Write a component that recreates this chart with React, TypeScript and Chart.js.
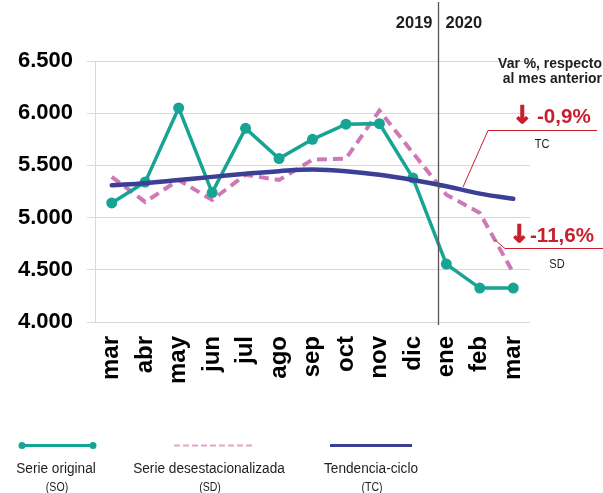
import React, { useEffect, useRef } from "react";
import { Chart, registerables } from "chart.js";

Chart.register(...registerables);

const months = ["mar", "abr", "may", "jun", "jul", "ago", "sep", "oct", "nov", "dic", "ene", "feb", "mar"];
const serieOriginal = [5140, 5340, 6050, 5240, 5855, 5565, 5750, 5895, 5900, 5380, 4555, 4325, 4325];
const serieDesest = [5390, 5150, 5360, 5170, 5410, 5360, 5555, 5565, 6025, 5620, 5220, 5045, 4470];
const tendenciaCiclo = [5310, 5330, 5360, 5390, 5420, 5445, 5460, 5445, 5410, 5360, 5300, 5230, 5180];
const yMin = 4000;
const yMax = 6500;
const yStep = 500;
const years = ["2019", "2020"];
const varTitle = ["Var %, respecto", "al mes anterior"];
const varTC = "-0,9%";
const varSD = "-11,6%";
const legendLabels = ["Serie original", "Serie desestacionalizada", "Tendencia-ciclo"];
const legendCodes = ["(SO)", "(SD)", "(TC)"];

const TEAL = "#17a495";
const PINK = "#cf78b6";
const PINK_LIGHT = "#e2a6c9";
const NAVY = "#3c3f96";
const RED = "#c81f2d";
const GRID = "#d9d9d9";
const TXT = "#1e1e1e";
const SANS = '"Liberation Sans", Arial, sans-serif';

const fmt = (v: number) => {
  const s = String(Math.round(v));
  return s.replace(/\B(?=(\d{3})+(?!\d))/g, ".");
};

// draws text with optional horizontal condensing
function drawText(
  ctx: CanvasRenderingContext2D,
  text: string,
  x: number,
  y: number,
  font: string,
  align: CanvasTextAlign,
  color: string,
  sx = 1
) {
  ctx.save();
  ctx.font = font;
  ctx.fillStyle = color;
  ctx.textAlign = align;
  ctx.textBaseline = "alphabetic";
  ctx.translate(x, y);
  ctx.scale(sx, 1);
  ctx.fillText(text, 0, 0);
  ctx.restore();
}

function drawArrow(ctx: CanvasRenderingContext2D, x: number, y: number) {
  ctx.save();
  ctx.font = `bold 24px "DejaVu Sans", sans-serif`;
  ctx.fillStyle = RED;
  ctx.strokeStyle = RED;
  ctx.lineWidth = 1.2;
  ctx.textAlign = "left";
  ctx.textBaseline = "alphabetic";
  ctx.fillText("\u2193", x, y);
  ctx.strokeText("\u2193", x, y);
  ctx.restore();
}

const overlay = {
  id: "overlay",
  afterDatasetsDraw(chart: any) {
    const ctx = chart.ctx as CanvasRenderingContext2D;
    const x = chart.scales.x;
    const y = chart.scales.y;
    ctx.save();

    // separator 2019 | 2020
    const sx = Math.round(x.getPixelForValue(9.75)) + 0.5;
    ctx.strokeStyle = "#555";
    ctx.lineWidth = 1.3;
    ctx.beginPath();
    ctx.moveTo(sx, 2);
    ctx.lineTo(sx, y.bottom + 3);
    ctx.stroke();

    drawText(ctx, years[0], sx - 6, 28, `bold 17px ${SANS}`, "right", TXT, 0.97);
    drawText(ctx, years[1], sx + 7, 28, `bold 17px ${SANS}`, "left", TXT, 0.97);

    // Var % title
    drawText(ctx, varTitle[0], 602, 68, `bold 15.5px ${SANS}`, "right", TXT, 0.9);
    drawText(ctx, varTitle[1], 602, 83, `bold 15.5px ${SANS}`, "right", TXT, 0.9);

    // TC annotation
    const tcX = x.getPixelForValue(10.5);
    const tcY = y.getPixelForValue((tendenciaCiclo[10] + tendenciaCiclo[11]) / 2);
    ctx.strokeStyle = RED;
    ctx.lineWidth = 1;
    ctx.beginPath();
    ctx.moveTo(tcX, tcY - 3);
    ctx.lineTo(488, 130.5);
    ctx.lineTo(597, 130.5);
    ctx.stroke();

    drawArrow(ctx, 512, 123);
    drawText(ctx, varTC, 537, 123, `bold 21px ${SANS}`, "left", RED, 0.98);
    drawText(ctx, "TC", 542, 148, `13px ${SANS}`, "center", TXT, 0.85);

    // SD annotation
    const f = 0.45;
    const sdX = x.getPixelForValue(11 + f);
    const sdY = y.getPixelForValue(serieDesest[11] + f * (serieDesest[12] - serieDesest[11]));
    ctx.strokeStyle = RED;
    ctx.beginPath();
    ctx.moveTo(sdX, sdY);
    ctx.lineTo(505, 248.5);
    ctx.lineTo(603, 248.5);
    ctx.stroke();

    drawArrow(ctx, 509, 242);
    drawText(ctx, varSD, 530, 242, `bold 21px ${SANS}`, "left", RED, 0.98);
    drawText(ctx, "SD", 557, 268, `13px ${SANS}`, "center", TXT, 0.85);

    // Legend
    const ly = 445.5;
    ctx.strokeStyle = TEAL;
    ctx.lineWidth = 3;
    ctx.setLineDash([]);
    ctx.beginPath();
    ctx.moveTo(22, ly);
    ctx.lineTo(93, ly);
    ctx.stroke();
    ctx.fillStyle = TEAL;
    [22, 93].forEach((px) => {
      ctx.beginPath();
      ctx.arc(px, ly, 3.5, 0, Math.PI * 2);
      ctx.fill();
    });
    ctx.strokeStyle = PINK_LIGHT;
    ctx.lineWidth = 2;
    ctx.setLineDash([6, 3]);
    ctx.beginPath();
    ctx.moveTo(174, ly);
    ctx.lineTo(252, ly);
    ctx.stroke();
    ctx.setLineDash([]);
    ctx.strokeStyle = NAVY;
    ctx.lineWidth = 3;
    ctx.beginPath();
    ctx.moveTo(330, ly);
    ctx.lineTo(412, ly);
    ctx.stroke();

    const centers = [56, 209, 371];
    centers.forEach((cx, i) => {
      drawText(ctx, legendLabels[i], cx, 473, `15.5px ${SANS}`, "center", TXT, 0.88);
      drawText(ctx, legendCodes[i], cx + 1, 491, `12px ${SANS}`, "center", TXT, 0.88);
    });

    ctx.restore();
  },
};

export default function App() {
  const ref = useRef<HTMLCanvasElement | null>(null);

  useEffect(() => {
    if (!ref.current) return;
    const chart = new Chart(ref.current, {
      type: "line",
      data: {
        labels: months,
        datasets: [
          {
            label: "Tendencia-ciclo (TC)",
            data: tendenciaCiclo,
            borderColor: NAVY,
            backgroundColor: NAVY,
            borderWidth: 4.5,
            pointRadius: 0,
            tension: 0.4,
            borderCapStyle: "round",
          },
          {
            label: "Serie original (SO)",
            data: serieOriginal,
            borderColor: TEAL,
            backgroundColor: TEAL,
            borderWidth: 3.5,
            pointRadius: 5.5,
            pointBorderWidth: 0,
            pointBackgroundColor: TEAL,
            tension: 0,
          },
          {
            label: "Serie desestacionalizada (SD)",
            data: serieDesest,
            borderColor: PINK,
            backgroundColor: PINK,
            borderWidth: 4,
            borderDash: [10, 6],
            pointRadius: 0,
            tension: 0,
          },
        ],
      },
      options: {
        responsive: false,
        animation: false,
        devicePixelRatio: 1,
        layout: { padding: { top: 61, right: 73, left: 0, bottom: 0 } },
        plugins: { legend: { display: false }, tooltip: { enabled: false } },
        scales: {
          x: {
            offset: true,
            grid: { display: false, drawTicks: false },
            border: { display: false },
            ticks: {
              minRotation: 90,
              maxRotation: 90,
              autoSkip: false,
              padding: 14,
              color: "#000",
              font: { family: SANS, size: 24, weight: "bold" },
            },
            afterFit: (s: any) => {
              s.height = 171;
            },
          },
          y: {
            min: yMin,
            max: yMax,
            grid: { color: GRID, lineWidth: 1, tickLength: 8 },
            border: { display: true, color: GRID, width: 1 },
            ticks: {
              stepSize: yStep,
              padding: 14,
              color: "#000",
              font: { family: SANS, size: 22, weight: "bold" },
              callback: (v: any) => fmt(Number(v)),
            },
            afterFit: (s: any) => {
              s.width = 95;
            },
          },
        },
      },
      plugins: [overlay],
    });
    return () => chart.destroy();
  }, []);

  return (
    <div style={{ position: "fixed", left: 0, top: 0, width: 603, height: 493, background: "#fff" }}>
      <canvas ref={ref} width={603} height={493} style={{ display: "block", width: 603, height: 493 }} />
    </div>
  );
}
